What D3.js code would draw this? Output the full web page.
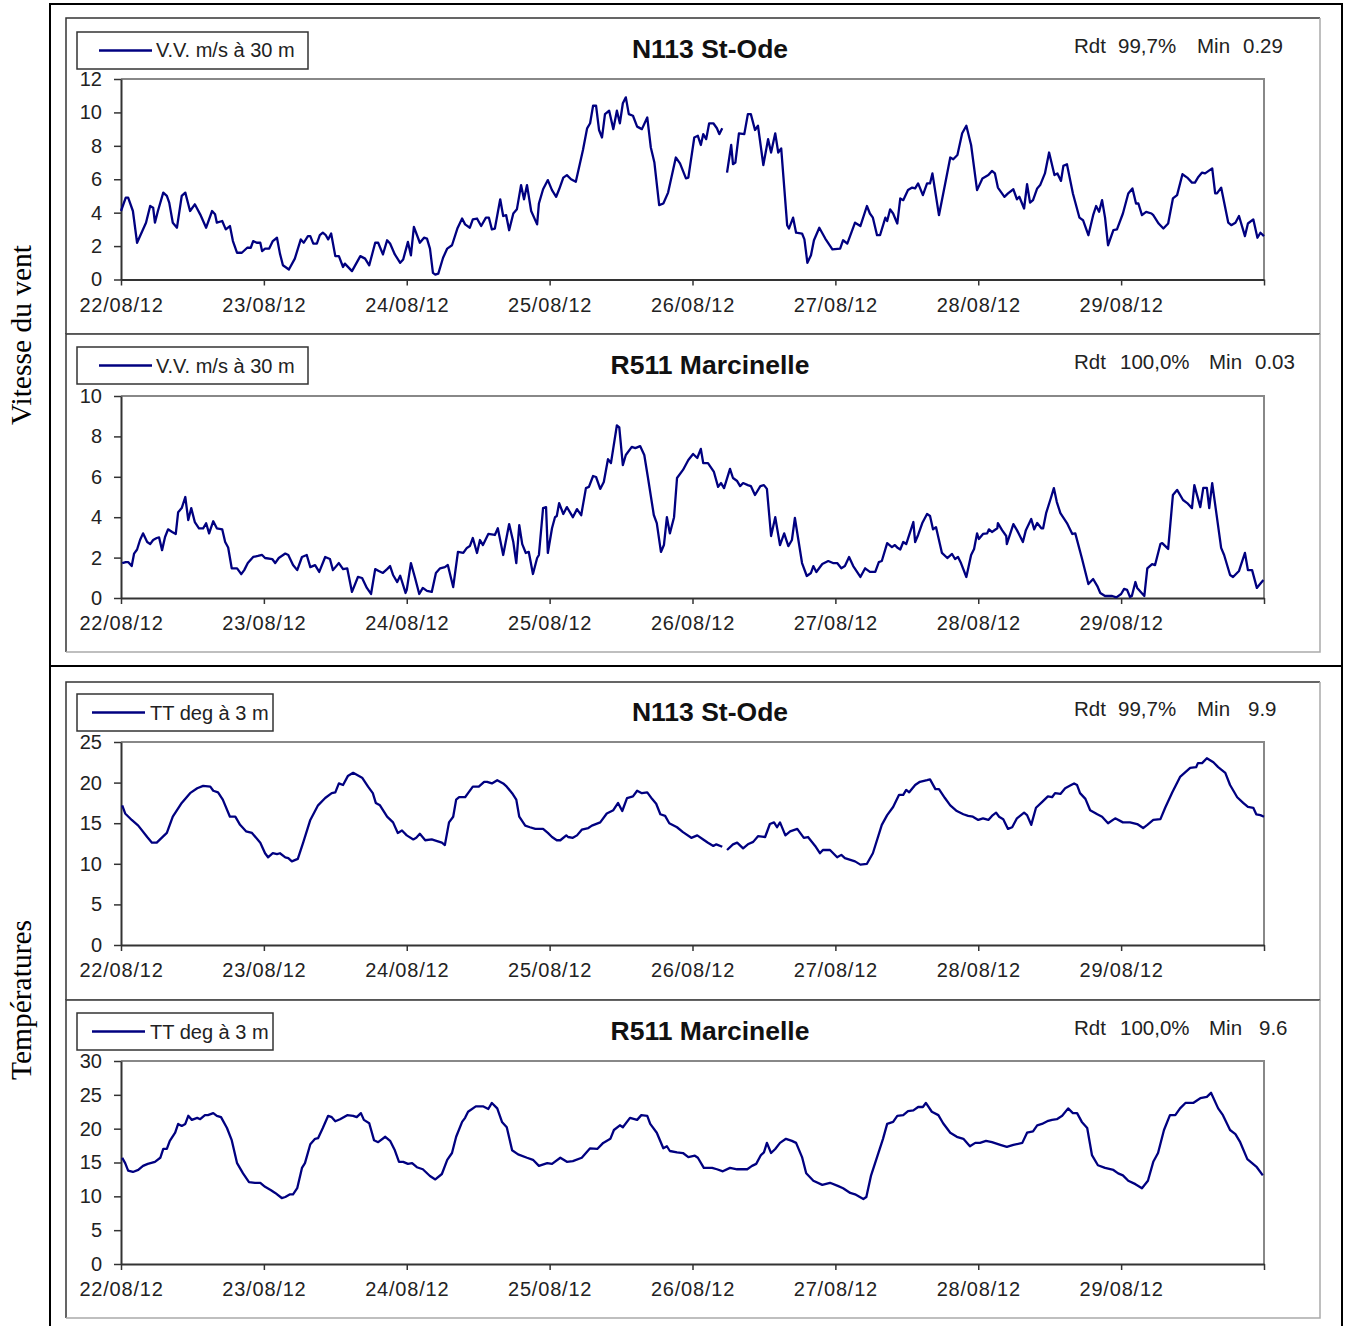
<!DOCTYPE html>
<html>
<head>
<meta charset="utf-8">
<script src="https://cdn.jsdelivr.net/npm/d3@7"></script>
<style>
  html, body { margin: 0; padding: 0; background: #fff; }
  svg { display: block; }
  .tick text { font-family: "Liberation Sans", Arial, sans-serif; fill: #222; }
</style>
</head>
<body>
<svg id="chart" width="1346" height="1326"></svg>
<script>
// Hourly measurements, 22/08/2012 00:00 -> 30/08/2012 00:00.
// Each entry: [hours since 22/08 00:00, value]; null marks a missing record.

const dayLabels = ["22/08/12", "23/08/12", "24/08/12", "25/08/12", "26/08/12", "27/08/12", "28/08/12", "29/08/12", ""];

// Wind speed at 30 m (m/s) - N113 St-Ode
const windStOde = [[0,4.1],[0.8,4.9],[1.2,4.9],[2,4.1],[2.7,2.2],[4.2,3.4],[4.9,4.4],[5.4,4.3],[5.7,3.4],[6.2,4.1],[7.1,5.2],[7.7,5.0],[8.1,4.6],[8.7,3.4],[9.4,3.1],[10.2,5.0],[10.8,5.2],[11.6,4.1],[12.4,4.5],[13.3,3.9],[14.3,3.1],[15.3,4.1],[15.8,3.9],[16.1,3.4],[17,3.5],[17.6,3.0],[18.3,3.2],[18.8,2.3],[19.5,1.6],[20.3,1.6],[21.2,1.9],[21.8,1.9],[22.2,2.3],[22.8,2.2],[23.4,2.2],[23.7,1.7],[24.2,1.85],[24.9,1.85],[25.5,2.3],[26.2,2.5],[26.7,1.55],[27.2,0.85],[28.2,0.6],[29.2,1.25],[30.2,2.4],[30.7,2.2],[31.4,2.6],[31.8,2.6],[32.3,2.15],[32.9,2.15],[33.4,2.65],[33.9,2.8],[34.4,2.65],[34.8,2.4],[35.3,2.75],[36,1.4],[36.6,1.4],[37.3,0.75],[37.6,0.95],[38.8,0.5],[40.2,1.4],[41,1.25],[41.7,0.85],[42.7,2.2],[43.2,2.2],[44,1.5],[44.7,2.35],[45.2,2.15],[46,1.5],[46.9,1.0],[47.4,1.2],[48.2,2.25],[48.7,1.45],[49.2,3.15],[50.2,2.2],[50.9,2.5],[51.4,2.45],[51.9,1.85],[52.4,0.4],[52.8,0.29],[53.3,0.35],[54.1,1.3],[54.8,1.85],[55.6,2.05],[56.5,3.05],[57.3,3.65],[57.8,3.3],[58.6,3.1],[59.1,3.6],[59.8,3.65],[60.5,3.2],[61.3,3.7],[61.8,3.7],[62.3,3.0],[62.8,3.05],[63.7,4.8],[64.2,3.8],[64.7,3.85],[65.2,2.95],[65.9,3.95],[66.5,4.2],[67.2,5.65],[67.7,4.8],[68.2,5.65],[68.9,4.1],[69.9,3.3],[70.2,4.55],[70.9,5.4],[71.7,5.95],[72.4,5.35],[73.1,4.95],[73.6,5.4],[74.3,6.1],[74.9,6.25],[75.6,6.0],[76.4,5.85],[77.6,7.75],[78.3,9.05],[78.8,9.35],[79.3,10.4],[79.8,10.4],[80.3,8.95],[80.8,8.5],[81.3,9.9],[82,10.1],[82.7,9.0],[83.3,10.1],[83.8,9.35],[84.3,10.55],[84.8,10.9],[85.3,9.9],[86,9.8],[86.7,9.15],[87.5,9.0],[88.4,9.7],[89,7.9],[89.6,7.0],[90.4,4.45],[91.1,4.55],[91.9,5.2],[93.2,7.3],[93.9,6.95],[94.9,6.05],[95.3,6.1],[96.3,8.5],[96.9,8.6],[97.4,8.05],[97.8,8.7],[98.3,8.4],[98.8,9.35],[99.5,9.35],[100.1,9.05],[100.5,8.7],[101,9.05],[101.4,null],[101.8,6.4],[102.5,8.05],[102.8,6.9],[103.2,7.0],[103.8,8.75],[104.7,8.7],[105.3,9.9],[105.8,9.9],[106.5,8.95],[107,9.2],[107.9,6.85],[108.7,8.4],[109.2,7.6],[109.9,8.75],[110.4,7.6],[110.9,7.85],[111.9,3.25],[112.2,3.05],[112.9,3.7],[113.4,2.8],[114.4,2.75],[114.8,2.4],[115.3,1.0],[115.9,1.45],[116.4,2.35],[117.3,3.1],[118.3,2.45],[119.5,1.8],[120.8,1.85],[121.3,2.35],[122,2.15],[123.3,3.4],[124.2,3.2],[125.3,4.4],[125.8,3.95],[126.3,3.7],[127,2.65],[127.5,2.65],[128.4,3.7],[128.7,3.5],[129.2,4.2],[129.7,3.95],[130.4,3.35],[130.9,4.85],[131.4,4.75],[132.2,5.35],[132.9,5.5],[133.4,5.45],[133.9,5.75],[134.7,5.05],[135.4,5.75],[135.9,5.75],[136.3,6.35],[137.4,3.85],[138.4,5.65],[139.3,7.3],[139.8,7.2],[140.5,7.45],[141.3,8.75],[142,9.2],[142.8,8.05],[143.8,5.35],[144.7,6.05],[145.7,6.25],[146.3,6.5],[146.8,6.35],[147.3,5.5],[148.4,4.95],[149,5.15],[149.9,5.4],[150.5,4.8],[150.9,4.95],[151.7,4.25],[152.2,5.7],[152.7,4.6],[153.2,4.75],[153.9,5.45],[154.4,5.65],[155.2,6.35],[155.9,7.6],[156.8,6.25],[157.3,6.35],[157.9,5.9],[158.3,6.8],[158.9,6.9],[159.9,5.15],[161,3.7],[161.6,3.55],[162.5,2.65],[163.3,3.85],[163.8,4.4],[164.3,4.05],[164.8,4.75],[165.3,3.7],[165.8,2.05],[166.7,2.95],[167.3,3.0],[168.3,3.95],[169.2,5.15],[169.9,5.45],[170.5,4.55],[170.9,4.55],[171.5,3.85],[172.2,4.05],[173.1,3.95],[173.4,3.85],[174.3,3.35],[175.1,3.05],[175.9,3.35],[176.7,4.85],[177.4,5.05],[178.3,6.3],[179.1,6.1],[179.9,5.8],[180.4,5.8],[180.9,6.1],[181.6,6.4],[182.1,6.35],[183.3,6.65],[183.8,5.15],[184.1,5.15],[184.8,5.5],[186,3.4],[186.5,3.25],[187.2,3.4],[187.8,3.8],[188.8,2.6],[189.3,3.35],[190.2,3.6],[190.9,2.5],[191.4,2.8],[192,2.6]];

// Wind speed at 30 m (m/s) - R511 Marcinelle
const windMarcinelle = [[0.2,1.73],[0.8,1.78],[1.2,1.78],[1.8,1.58],[2.2,2.2],[2.7,2.4],[3.2,2.87],[3.7,3.2],[4.4,2.77],[4.9,2.67],[5.4,2.87],[6,2.97],[6.4,3.0],[6.9,2.37],[7.4,3.02],[7.9,3.4],[8.6,3.27],[9.2,3.17],[9.6,4.25],[10.2,4.45],[10.8,5.0],[11.3,3.86],[11.8,4.45],[12.4,3.76],[13.1,3.45],[13.8,3.45],[14.3,3.7],[14.8,3.2],[15.5,3.8],[16.1,3.45],[17,3.4],[17.5,2.77],[18,2.5],[18.6,1.47],[19.5,1.47],[20.2,1.18],[20.7,1.38],[21.3,1.73],[22.2,2.03],[23,2.08],[23.7,2.13],[24.2,1.98],[25.4,1.93],[25.9,1.73],[26.5,1.98],[27.6,2.2],[28.1,2.13],[28.9,1.63],[29.6,1.38],[30.4,2.03],[31.2,2.13],[31.8,1.53],[32.6,1.63],[33.3,1.29],[34.3,2.03],[35.1,1.93],[35.6,1.38],[36.6,1.73],[37.3,1.43],[38,1.47],[38.8,0.3],[39.8,1.04],[40.5,0.99],[41.3,0.5],[42,0.2],[42.7,1.43],[43.3,1.34],[44,1.24],[44.7,1.43],[45.2,1.58],[45.7,1.14],[46.4,0.79],[46.9,1.1],[47.8,0.25],[48,0.4],[48.7,1.73],[49.4,0.99],[50.1,0.2],[50.7,0.5],[51.4,0.35],[52.2,0.3],[52.9,1.24],[53.6,1.47],[54.4,1.53],[54.9,1.63],[55.8,0.54],[56.6,2.28],[57.5,2.23],[58.1,2.48],[58.6,2.57],[59.1,2.97],[59.8,2.23],[60.3,2.87],[60.8,2.62],[61.7,3.17],[62.8,3.12],[63.3,3.45],[64.2,2.13],[65.2,3.66],[65.9,2.77],[66.4,1.73],[66.9,3.61],[67.4,2.67],[68,2.23],[68.5,2.28],[69.2,1.19],[69.9,1.98],[70.2,2.13],[70.9,4.45],[71.4,4.5],[71.7,2.23],[72.4,3.45],[72.9,4.0],[73.2,4.06],[73.6,4.7],[74.3,4.16],[74.9,4.5],[75.9,4.0],[76.6,4.4],[77.3,4.1],[78.1,5.44],[78.6,5.5],[79.3,6.04],[79.8,5.99],[80.5,5.4],[81.1,5.74],[81.8,6.87],[82.3,6.68],[83.3,8.55],[83.7,8.45],[84.3,6.58],[84.8,7.08],[85.8,7.48],[86.4,7.42],[87.2,7.52],[87.9,7.08],[88.5,5.99],[89.5,4.11],[90,3.71],[90.7,2.28],[91.2,2.62],[91.7,4.0],[92.2,3.2],[92.9,4.0],[93.4,5.94],[94.4,6.34],[95.3,6.83],[96.1,7.13],[96.8,6.93],[97.4,7.38],[97.8,6.68],[98.6,6.68],[99.6,6.24],[100.3,5.5],[100.8,5.69],[101.3,5.44],[102.3,6.39],[102.8,5.94],[103.5,5.79],[104,5.54],[104.5,5.69],[105.3,5.59],[105.8,5.54],[106.5,5.1],[107.4,5.54],[108,5.59],[108.5,5.4],[109.2,3.07],[109.9,4.0],[110.7,2.62],[111.4,3.2],[112.1,2.57],[112.7,2.87],[113.2,3.96],[114.4,1.73],[115.2,1.09],[115.9,1.24],[116.3,1.58],[116.8,1.29],[117.8,1.68],[118.8,1.83],[119.6,1.73],[120.3,1.73],[121,1.47],[121.6,1.58],[122.3,2.03],[123,1.58],[124.2,1.04],[125,1.47],[125.8,1.29],[126.7,1.29],[127.3,1.78],[127.8,1.83],[128.7,2.72],[129.5,2.52],[130,2.62],[130.5,2.47],[130.9,2.4],[131.4,2.77],[131.9,2.67],[133.1,3.76],[133.4,2.77],[133.9,3.12],[134.6,3.71],[135.4,4.16],[135.9,4.06],[136.4,3.4],[136.9,3.51],[137.9,2.23],[138.8,1.98],[139.6,2.18],[140.1,1.93],[140.6,2.03],[141.1,1.73],[142,1.04],[142.8,2.13],[143.3,2.43],[143.8,3.2],[144.1,2.92],[144.8,3.17],[145.5,3.2],[145.8,3.4],[146.3,3.27],[147.2,3.45],[147.3,3.71],[148,3.36],[148.7,3.07],[148.8,2.67],[149.9,3.66],[150.5,3.36],[151.5,2.77],[152,3.36],[152.9,3.91],[153.4,3.4],[153.9,3.71],[154.6,3.45],[154.9,3.45],[155.4,4.2],[156.2,4.95],[156.7,5.44],[157.2,4.75],[157.8,4.2],[158.9,3.71],[159.8,3.17],[160.3,3.2],[161.4,1.98],[162.5,0.69],[163.3,0.94],[164,0.59],[164.5,0.25],[165.3,0.1],[166.5,0.1],[167.2,0.03],[168,0.2],[168.5,0.45],[169,0.4],[169.5,0.05],[169.8,0.1],[170.4,0.79],[170.7,0.5],[171.9,0.1],[172.4,1.47],[173.2,1.68],[173.7,1.63],[174.6,2.67],[174.9,2.72],[175.9,2.43],[176.7,5.1],[177.4,5.35],[178.4,4.85],[179.1,4.7],[179.9,4.45],[180.3,5.59],[181.3,4.5],[181.8,5.45],[182.4,5.45],[182.8,4.45],[183.3,5.69],[184.8,2.48],[185.3,2.13],[186.3,1.14],[186.8,1.04],[187.8,1.34],[188.8,2.23],[189.3,1.38],[190,1.38],[190.8,0.5],[191.2,0.64],[191.9,0.89]];

// Air temperature at 3 m (deg C) - N113 St-Ode
const tempStOde = [[0.2,17.2],[0.7,16.2],[1.8,15.4],[2.9,14.7],[4.4,13.3],[5.2,12.6],[6,12.6],[7.7,13.8],[8.7,15.8],[10.2,17.5],[11.6,18.7],[12.8,19.3],[13.8,19.6],[15,19.5],[15.5,19.0],[16.3,18.8],[17.1,17.9],[18.3,15.8],[19.2,15.8],[20,14.8],[21,14.0],[22,13.8],[23.4,12.6],[24.2,11.3],[24.7,10.8],[25.5,11.3],[26.2,11.2],[26.7,11.3],[27.6,10.8],[28.1,10.7],[28.7,10.3],[29.7,10.6],[30.6,12.6],[31.8,15.4],[33.1,17.2],[34.3,18.1],[35.4,18.7],[36,18.8],[36.6,19.9],[37.3,19.7],[38.1,20.8],[39,21.2],[40.5,20.6],[41.5,19.5],[42.3,18.7],[42.8,17.5],[43.5,17.2],[44.7,15.8],[45.7,15.1],[46.5,13.8],[47.2,14.1],[48,13.5],[49.1,13.0],[49.6,13.2],[50.2,13.7],[51.1,12.9],[52.2,13.0],[53.1,12.8],[53.9,12.6],[54.4,12.3],[55.1,15.1],[55.8,15.8],[56.3,17.9],[56.8,18.2],[57.8,18.2],[58.3,18.7],[59.1,19.5],[60.1,19.5],[61,20.1],[61.5,20.1],[62.3,19.9],[63.2,20.3],[64.2,19.9],[64.8,19.5],[65.7,18.7],[66.4,17.9],[66.9,15.8],[67.9,14.7],[68.7,14.5],[69.6,14.3],[70.9,14.3],[71.7,13.8],[72.4,13.3],[73.2,12.9],[73.8,12.9],[74.8,13.5],[75.1,13.3],[75.9,13.2],[76.6,13.5],[77.4,14.2],[78.5,14.4],[79.1,14.7],[80.5,15.1],[81.6,16.2],[82.7,16.6],[83.5,17.5],[84.2,16.5],[85,18.1],[86,18.3],[86.7,19.0],[87.5,18.7],[88.4,18.8],[89.2,18.0],[89.9,17.4],[90.6,16.1],[91.4,15.9],[92.1,15.0],[93.4,14.5],[94.4,13.9],[95.8,13.2],[96.8,13.5],[97.8,13.0],[98.6,12.6],[99.5,12.2],[100,12.4],[101,12.1],[101.4,null],[101.8,11.7],[102.8,12.4],[103.5,12.6],[104.5,11.9],[105.3,12.4],[106.2,12.7],[107,13.4],[108.2,13.3],[109,14.9],[109.7,15.1],[110.2,14.5],[110.7,15.1],[111.6,13.5],[112.4,14.0],[113.6,14.3],[114.7,13.2],[115.4,13.3],[116.6,12.2],[117.4,11.3],[117.9,11.7],[119.1,11.7],[120.3,10.8],[121,11.1],[121.6,10.7],[123.3,10.3],[124.2,9.9],[125.3,10.0],[126.3,11.3],[127.8,14.8],[128.7,16.0],[129.7,17.0],[130.7,18.5],[131.4,18.5],[131.9,19.1],[132.4,18.8],[133.4,19.7],[134.2,20.1],[135.4,20.3],[135.9,20.4],[136.8,19.2],[137.4,19.2],[138.4,18.1],[139.3,17.2],[140.4,16.5],[141.5,16.1],[142.3,15.9],[143.1,15.8],[144,15.4],[144.8,15.6],[145.7,15.4],[146.3,15.9],[147,16.3],[147.5,15.8],[148.2,15.5],[149,14.3],[149.7,14.5],[150.5,15.6],[151.7,16.3],[152.2,16.0],[152.9,14.8],[153.7,16.9],[154.7,17.6],[155.7,18.3],[156.4,18.2],[156.9,18.7],[157.8,18.6],[158.6,19.3],[159.6,19.7],[160.1,19.9],[160.6,19.7],[161.1,18.7],[162,18.0],[162.8,16.6],[164,16.1],[164.8,15.8],[165.8,15.0],[167,15.6],[168.3,15.1],[169.5,15.1],[170.7,14.9],[171.7,14.4],[172.4,14.8],[173.4,15.4],[174.6,15.5],[175.4,16.9],[176.6,18.8],[177.9,20.7],[179.6,21.8],[180.6,21.9],[180.9,22.4],[181.6,22.4],[182.4,23.0],[183.5,22.5],[184.3,21.9],[185.5,21.2],[186.3,19.7],[187.5,18.2],[188.5,17.5],[189.3,17.0],[190.2,16.9],[190.7,16.1],[191.4,16.0],[192,15.8]];

// Air temperature at 3 m (deg C) - R511 Marcinelle
const tempMarcinelle = [[0.2,15.7],[0.7,14.9],[1.2,13.8],[2,13.6],[2.9,13.9],[3.7,14.5],[4.5,14.8],[5.7,15.1],[6.6,15.7],[7.1,17.0],[7.7,17.0],[8.2,18.2],[9.1,19.4],[9.6,20.7],[10.2,20.4],[10.8,20.7],[11.3,21.9],[11.9,21.3],[12.8,21.6],[13.3,21.4],[14.1,22.0],[14.6,22.0],[15.5,22.3],[16.1,21.9],[16.8,21.7],[17.8,20.1],[18.6,18.3],[19.5,14.9],[20.5,13.4],[21.5,12.1],[22.5,12.0],[23.4,12.0],[24.2,11.4],[25.2,10.9],[25.9,10.5],[27,9.75],[27.6,9.9],[28.4,10.3],[28.9,10.3],[29.6,11.2],[30.4,14.2],[30.9,14.9],[31.8,17.7],[32.6,18.5],[33.1,18.6],[33.9,20.1],[34.8,21.9],[35.4,21.7],[36,21.1],[36.8,21.4],[38,22.0],[39,21.9],[39.6,21.7],[40.3,22.3],[40.8,21.3],[41.7,20.8],[42.5,18.3],[43.2,18.0],[44.4,18.8],[45.2,18.2],[46,16.8],[46.7,15.1],[47.4,15.1],[48.2,14.8],[48.9,14.9],[49.7,14.3],[50.7,14.0],[51.9,13.0],[52.8,12.5],[53.9,13.3],[54.8,15.4],[55.6,16.4],[56.3,18.8],[57.3,21.0],[57.8,21.6],[58.3,22.5],[59.6,23.3],[60.8,23.3],[61.7,22.9],[62.3,23.8],[63.2,23.0],[64,21.0],[64.8,20.2],[65.7,16.8],[66.7,16.2],[68.2,15.7],[69.2,15.4],[70.2,14.5],[71.6,14.9],[72.4,14.8],[73.8,15.7],[74.9,15.1],[75.9,15.2],[77.4,15.7],[78.8,17.1],[80,17.0],[81,17.9],[82.2,18.5],[82.8,19.8],[83.8,20.5],[84.3,20.2],[85.5,21.6],[86.7,21.3],[87.4,22.0],[88.4,21.9],[88.9,20.7],[90,19.4],[91.1,17.1],[91.7,17.4],[92.2,16.7],[93.4,16.5],[94.4,16.4],[95.3,15.8],[96.4,16.0],[96.9,15.7],[97.9,14.2],[99.3,14.2],[100.1,14.0],[101.1,13.7],[102.3,14.2],[103.5,14.0],[105.2,14.0],[106,14.5],[106.7,14.8],[107.5,16.1],[108,16.5],[108.5,17.9],[109.2,16.4],[109.9,17.0],[110.7,17.9],[111.7,18.5],[112.7,18.2],[113.4,17.9],[114.4,15.8],[115.1,13.4],[116.3,12.3],[117.8,11.7],[119.1,12.0],[120.5,11.5],[121.3,11.2],[122.5,10.5],[123.3,10.3],[124.7,9.6],[125.2,9.9],[126,13.1],[127,15.8],[128,18.5],[128.7,20.7],[129.7,21.0],[130.4,21.9],[131.4,22.0],[132.2,22.6],[133.1,22.7],[133.9,23.2],[134.7,23.2],[135.2,23.8],[136.2,22.5],[137.3,22.0],[138.1,20.8],[139.3,19.4],[140.4,18.8],[141.5,18.5],[142.6,17.4],[143.5,17.9],[144.3,17.9],[145.3,18.2],[146.3,18.0],[147.7,17.6],[148.8,17.3],[149.9,17.6],[151.4,17.9],[152.2,19.4],[153.2,19.6],[153.9,20.5],[154.7,20.7],[155.6,21.1],[156.4,21.3],[157.2,21.4],[158.1,21.9],[159.1,23.0],[159.9,22.3],[160.6,22.3],[161.4,21.0],[162.3,20.1],[163.1,16.1],[164.1,14.6],[165.3,14.2],[166.7,13.9],[167.5,13.4],[168.3,13.1],[169.2,12.3],[170.4,11.8],[171.5,11.2],[172.5,12.3],[173.4,15.1],[174.2,16.4],[175.2,19.8],[176.2,22.0],[177.1,22.0],[177.9,23.0],[178.8,23.8],[180.1,23.8],[181.3,24.5],[182.4,24.7],[183.1,25.3],[184.3,23.0],[185.1,22.0],[186.3,19.8],[187.2,19.2],[188,18.0],[189.2,15.5],[190,14.9],[190.8,14.3],[191.8,13.1]];

const stations = ["N113 St-Ode", "R511 Marcinelle", "N113 St-Ode", "R511 Marcinelle"];
const seriesNames = ["V.V. m/s à 30 m", "V.V. m/s à 30 m", "TT deg à 3 m", "TT deg à 3 m"];
const rdtValues = ["99,7%", "100,0%", "99,7%", "100,0%"];
const minValues = ["0.29", "0.03", "9.9", "9.6"];
const yMaxima = [12, 10, 25, 30];
const yTickSteps = [2, 2, 5, 5];
const seriesList = [windStOde, windMarcinelle, tempStOde, tempMarcinelle];

// ---- layout ----
const W = 1346, H = 1326;
const plotLeft = 121, plotRight = 1264;
const layout = [
  { boxTop: 18,  boxBottom: 334,  plotTop: 79,   plotBottom: 279.5, legendTop: 32,   legendW: 231, lineX: [99, 152], textX: 156, header: 57,  rdtX: [1074, 1118, 1197, 1243] },
  { boxTop: 334, boxBottom: 652,  plotTop: 396,  plotBottom: 598,   legendTop: 347,  legendW: 231, lineX: [99, 152], textX: 156, header: 373, rdtX: [1074, 1120, 1209, 1255] },
  { boxTop: 682, boxBottom: 1000, plotTop: 742,  plotBottom: 945,   legendTop: 694,  legendW: 196, lineX: [92, 145], textX: 150, header: 720, rdtX: [1074, 1118, 1197, 1248] },
  { boxTop: 1000, boxBottom: 1318, plotTop: 1061, plotBottom: 1264, legendTop: 1013, legendW: 196, lineX: [92, 145], textX: 150, header: 1039, rdtX: [1074, 1120, 1209, 1259] }
];

const sans = '"Liberation Sans", Arial, sans-serif';
const serif = '"Liberation Serif", "Times New Roman", serif';
const lineColor = "#000080";

const svg = d3.select("#chart");
svg.append("rect").attr("width", W).attr("height", H).attr("fill", "#fff");

// Outer frames of the two groups
const frame = svg.append("g").attr("fill", "none").attr("stroke", "#000").attr("stroke-width", 2);
frame.append("rect").attr("x", 50).attr("y", 4).attr("width", 1292).attr("height", 662);
frame.append("rect").attr("x", 50).attr("y", 666).attr("width", 1292).attr("height", 680);

// Group titles (rotated)
svg.append("text")
  .attr("transform", "translate(31,335) rotate(-90)")
  .attr("text-anchor", "middle")
  .style("font-family", serif).style("font-size", "29.5px").attr("fill", "#000")
  .text("Vitesse du vent");
svg.append("text")
  .attr("transform", "translate(31,1000) rotate(-90)")
  .attr("text-anchor", "middle")
  .style("font-family", serif).style("font-size", "29.5px").attr("fill", "#000")
  .text("Températures");

const x = d3.scaleLinear().domain([0, 192]).range([plotLeft, plotRight]);

layout.forEach((L, i) => {
  const g = svg.append("g");

  // Panel box: darker top/left, light right/bottom
  g.append("rect").attr("x", 66).attr("y", L.boxTop).attr("width", 1254).attr("height", L.boxBottom - L.boxTop)
    .attr("fill", "#fff").attr("stroke", "none");
  g.append("path")
    .attr("d", `M66,${L.boxBottom}V${L.boxTop}H1320`)
    .attr("fill", "none").attr("stroke", "#333").attr("stroke-width", 1.5);
  g.append("path")
    .attr("d", `M1320,${L.boxTop}V${L.boxBottom}H66`)
    .attr("fill", "none").attr("stroke", "#aaa").attr("stroke-width", 1.5);

  const y = d3.scaleLinear().domain([0, yMaxima[i]]).range([L.plotBottom, L.plotTop]);

  // Plot area frame (top and right in grey)
  g.append("path")
    .attr("d", `M${plotLeft},${L.plotTop}H${plotRight}V${L.plotBottom}`)
    .attr("fill", "none").attr("stroke", "#888").attr("stroke-width", 2);

  // Y axis
  const yTicks = d3.range(0, yMaxima[i] + 0.001, yTickSteps[i]);
  const yAxis = g.append("g")
    .attr("transform", `translate(${plotLeft},0)`)
    .call(d3.axisLeft(y).tickValues(yTicks).tickSize(7).tickSizeOuter(0).tickPadding(12).tickFormat(d3.format("d")));
  yAxis.selectAll("path.domain").attr("stroke", "#333").attr("stroke-width", 2);
  yAxis.selectAll(".tick line").attr("stroke", "#333").attr("stroke-width", 1.5);
  yAxis.selectAll(".tick text").style("font-size", "20px").attr("fill", "#222");

  // X axis
  const xAxis = g.append("g")
    .attr("transform", `translate(0,${L.plotBottom})`)
    .call(d3.axisBottom(x).tickValues(d3.range(0, 193, 24)).tickSize(6).tickSizeOuter(0).tickPadding(12)
      .tickFormat((d, k) => dayLabels[k]));
  xAxis.selectAll("path.domain").attr("stroke", "#333").attr("stroke-width", 2);
  xAxis.selectAll(".tick line").attr("stroke", "#333").attr("stroke-width", 1.5);
  xAxis.selectAll(".tick text").style("font-size", "20px").style("letter-spacing", "0.8px").attr("fill", "#222");

  // Series line
  const line = d3.line()
    .defined(d => d[1] !== null)
    .x(d => x(d[0]))
    .y(d => y(d[1]));
  g.append("path")
    .datum(seriesList[i])
    .attr("d", line)
    .attr("fill", "none")
    .attr("stroke", lineColor)
    .attr("stroke-width", 2.3)
    .attr("stroke-linejoin", "round");

  // Legend
  g.append("rect").attr("x", 77).attr("y", L.legendTop).attr("width", L.legendW).attr("height", 37)
    .attr("fill", "#fff").attr("stroke", "#333").attr("stroke-width", 1.5);
  const ly = L.legendTop + 18.5;
  g.append("line").attr("x1", L.lineX[0]).attr("x2", L.lineX[1]).attr("y1", ly).attr("y2", ly)
    .attr("stroke", lineColor).attr("stroke-width", 2.3);
  g.append("text").attr("x", L.textX).attr("y", L.header)
    .style("font-family", sans).style("font-size", "20px").attr("fill", "#222")
    .text(seriesNames[i]);

  // Station title
  g.append("text").attr("x", 710).attr("y", L.header + 0.5).attr("text-anchor", "middle")
    .style("font-family", sans).style("font-size", "26.5px").style("font-weight", "bold").attr("fill", "#111")
    .text(stations[i]);

  // Availability and minimum
  const info = g.append("text").attr("y", L.header - 4)
    .style("font-family", sans).style("font-size", "20.5px").attr("fill", "#222");
  [["Rdt", 0], [rdtValues[i], 1], ["Min", 2], [minValues[i], 3]].forEach(([t, k]) => {
    info.append("tspan").attr("x", L.rdtX[k]).text(t);
  });
});
</script>
</body>
</html>
